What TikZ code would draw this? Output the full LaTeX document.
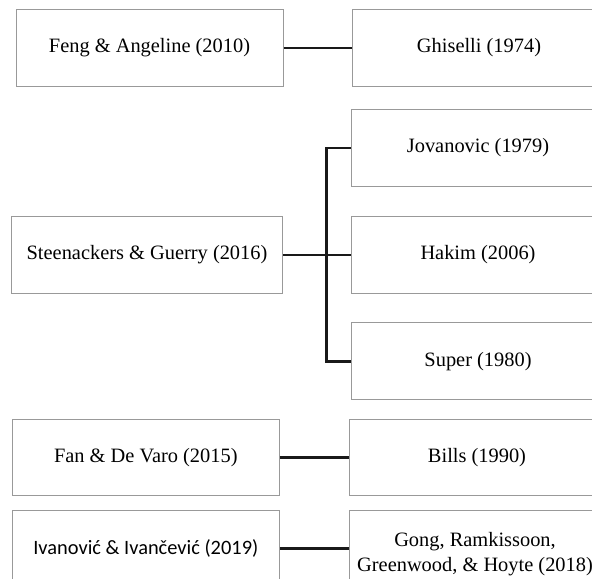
\documentclass[tikz,border=0pt]{standalone}
\usepackage{fontspec}
\setmainfont{Liberation Serif}
\newfontfamily\carlito{Carlito}
\begin{document}
\begin{tikzpicture}[x=0.5pt, y=-0.5pt,
	box/.style={draw=black!40, line width=0.5pt, minimum height=38.3pt, inner sep=0pt,
		font=\fontsize{10.2}{12.6}\selectfont, align=center},
	leftbox/.style={box, minimum width=133.5pt},
	rightbox/.style={box, minimum width=127pt},
	link/.style={line width=1.3pt, black!90}]
	% Bildausschnitt wie im Original (rechts und unten abgeschnitten)
	\useasboundingbox (0,0) rectangle (592,578);
	\clip (0,0) rectangle (592,578);
	
	% Zeile 1
	\node[leftbox] (feng) at (149.5,48) {Feng \& Angeline (2010)};
	\node[rightbox] (ghiselli) at (479,48) {Ghiselli (1974)};
	\draw[link] (feng.east) -- (ghiselli.west);
	
	% Zeile 2: eine Quelle, drei Bezuege
	\node[leftbox, minimum width=135.5pt] (steen) at (147,254.8) {Steenackers \& Guerry (2016)};
	\node[rightbox] (jovanovic) at (478,148) {Jovanovic (1979)};
	\node[rightbox] (hakim) at (478,254.8) {Hakim (2006)};
	\node[rightbox] (super) at (478,361.2) {Super (1980)};
	\coordinate (fork) at (326.7,254.8);
	\draw[link] (steen.east) -- (hakim.west);
	\draw[link] (jovanovic.west) -| (fork) |- (super.west);
	
	% Zeile 3
	\node[leftbox] (fan) at (145.8,457.4) {Fan \& De Varo (2015)};
	\node[rightbox, minimum width=128pt] (bills) at (477,457.4) {Bills (1990)};
	\draw[link] (fan.east) -- (bills.west);
	
	% Zeile 4 (Kasten rechts etwas hoeher, Text sitzt tiefer)
	\node[leftbox, font=\carlito\fontsize{10.2}{12.6}\selectfont] (ivanovic) at (145.8,548.5) {Ivanović \& Ivančević (2019)};
	\node[rightbox, minimum width=126pt, minimum height=44pt] (gong) at (475,554) {Gong, Ramkissoon,\\Greenwood, \& Hoyte (2018)};
	\draw[link] (ivanovic.east) -- (ivanovic.east -| gong.west);
\end{tikzpicture}
\end{document}
